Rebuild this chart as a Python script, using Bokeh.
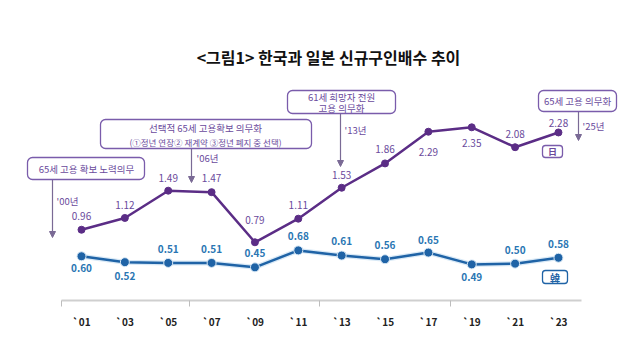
from bokeh.plotting import figure
from bokeh.models import (ColumnDataSource, Label, BoxAnnotation, Arrow, NormalHead,
                          LinearAxis, FixedTicker, Range1d)
from bokeh.embed import file_html
from bokeh.resources import INLINE

# ---------------- data ----------------
years = ["`01", "`03", "`05", "`07", "`09", "`11", "`13", "`15", "`17", "`19", "`21", "`23"]
japan = [0.96, 1.12, 1.49, 1.47, 0.79, 1.11, 1.53, 1.86, 2.29, 2.35, 2.08, 2.28]
korea = [0.60, 0.52, 0.51, 0.51, 0.45, 0.68, 0.61, 0.56, 0.65, 0.49, 0.50, 0.58]

title_text = "<그림1> 한국과 일본 신규구인배수 추이"
source_text = "출처 : 고용노동부, 日후생노동성"

# label placement (pixels, negative = above the point)
jp_label_dy = [-14, -13, -13, -14, -22, -14, -13, -14, 20, 16, -13, -9]
kr_label_dy = [12, 14, -14, -14, -14, -14, -15, -14, -13, 13, -14, -14]

# ---------------- geometry helpers ----------------
ORG = 1                       # page position of the figure's top-left
W = 630
BOTTOM = 54
FRAME_H = 301 - ORG           # frame bottom at page y = 301
H = FRAME_H + BOTTOM
STEP = 43.36                  # px per category
PX_PER_UNIT = 73.7            # px per y unit
X0 = -(82 - ORG) / STEP
X1 = X0 + W / STEP
Y1 = FRAME_H / PX_PER_UNIT

def X(px):
    return X0 + (px - ORG) / STEP

def Y(py):
    return (301 - py) / PX_PER_UNIT

FONT = "Noto Sans CJK KR"
PURPLE = "#5b2d86"
PURPLE_TXT = "#6a4a9c"
BOX_LINE = "#7a5cab"
BLUE = "#1f63a6"
BLUE_TXT = "#2a76b3"

p = figure(width=W, height=H, output_backend="svg", toolbar_location=None,
           x_range=Range1d(X0, X1), y_range=Range1d(0, Y1),
           x_axis_location=None, y_axis_location=None,
           min_border_left=0, min_border_right=0, min_border_top=0,
           min_border_bottom=BOTTOM)
p.outline_line_color = None
p.grid.visible = False
p.background_fill_color = "white"

xs = list(range(len(years)))

# x axis
ax = LinearAxis(ticker=FixedTicker(ticks=xs, minor_ticks=[-0.46, 2.5, 5.5, 8.5]),
                major_label_overrides={i: y for i, y in zip(xs, years)},
                bounds=(-0.46, 11.53))
ax.axis_line_color = "#cfcfcf"
ax.axis_line_width = 2
ax.major_tick_line_color = None
ax.major_tick_out = 0
ax.major_tick_in = 0
ax.minor_tick_line_color = "#bdbdbd"
ax.minor_tick_out = 6
ax.minor_tick_in = 0
ax.major_label_standoff = 7
ax.major_label_text_font = FONT
ax.major_label_text_font_size = "10px"
ax.major_label_text_font_style = "bold"
ax.major_label_text_color = "#222222"
p.add_layout(ax, "below")

src = ColumnDataSource(dict(x=xs, jp=japan, kr=korea,
                            jp_lab=[f"{v:.2f}" for v in japan],
                            kr_lab=[f"{v:.2f}" for v in korea],
                            jp_dy=jp_label_dy, kr_dy=kr_label_dy))

# Korea series with subtle halo
p.line("x", "kr", source=src, line_color="#d9e9f6", line_width=5)
p.line("x", "kr", source=src, line_color=BLUE, line_width=2.5)
p.scatter("x", "kr", source=src, size=9, fill_color=BLUE, line_color="#d9e9f6", line_width=1)

# Japan series
p.line("x", "jp", source=src, line_color=PURPLE, line_width=2.5)
p.scatter("x", "jp", source=src, size=7, fill_color=PURPLE, line_color=PURPLE)

p.text("x", "jp", text="jp_lab", source=src, y_offset="jp_dy",
       text_align="center", text_baseline="middle", text_font_size="10px",
       text_color=PURPLE_TXT, text_font={"value": FONT})
p.text("x", "kr", text="kr_lab", source=src, y_offset="kr_dy",
       text_align="center", text_baseline="middle", text_font_size="10px",
       text_color=BLUE_TXT, text_font={"value": FONT}, text_font_style="bold")

# title
p.add_layout(Label(x=X(329), y=Y(57), text=title_text, text_align="center",
                   text_baseline="middle", text_font=FONT, text_font_size="16px",
                   text_color="#111111", text_font_style="bold"))

# annotation boxes
def box(l, r, t, b, color=BOX_LINE, radius=5):
    p.add_layout(BoxAnnotation(left=X(l), right=X(r), top=Y(t), bottom=Y(b),
                               fill_color="white", fill_alpha=1.0,
                               line_color=color, line_width=1.3, line_alpha=1.0,
                               border_radius=radius, level="overlay"))

def txt(px, py, s, size="9.5px", color=PURPLE_TXT, align="center", style="normal"):
    p.add_layout(Label(x=X(px), y=Y(py), text=s, text_align=align,
                       text_baseline="middle", text_font=FONT, text_font_size=size,
                       text_color=color, text_font_style=style, level="overlay"))

def arrow(px, y0, y1):
    p.add_layout(Arrow(x_start=X(px), y_start=Y(y0), x_end=X(px), y_end=Y(y1),
                       line_color="#7a6a95", line_width=1.2,
                       end=NormalHead(size=6, fill_color="#7a6a95", line_color="#7a6a95")))

box(28, 145, 158, 180)
txt(87, 169, "65세 고용 확보 노력의무")
arrow(53, 180, 238)
txt(57, 201, "'00년", align="left")

box(101, 312, 120, 149)
txt(206, 128, "선택적 65세 고용확보 의무화")
txt(206, 142, "(①정년 연장② 재계약 ③정년 폐지 중 선택)", size="8.5px")
arrow(192, 149, 183)
txt(197, 158, "'06년", align="left")

box(288, 396, 91, 114)
txt(342, 97, "61세 희망자 전원")
txt(342, 108, "고용 의무화")
arrow(341, 114, 167)
txt(345, 130, "'13년", align="left")

box(539, 617, 91, 112)
txt(578, 101, "65세 고용 의무화")
arrow(579, 112, 141)
txt(583, 126, "'25년", align="left")

# series tags
box(543, 563, 146, 158, color=BOX_LINE, radius=3)
txt(553, 152, "日", size="9px", style="bold")
box(543, 568, 271, 284, color=BLUE, radius=3)
txt(555.5, 277.5, "韓", size="10px", color=BLUE, style="bold")

# source (below the frame, screen units)
p.add_layout(Label(x=574 - ORG, y=301 - 329, x_units="screen", y_units="screen",
                   text=source_text, text_align="right", text_baseline="middle",
                   text_font=FONT, text_font_size="8.5px", text_color="#808080"))

open("out.html", "w").write(file_html(p, INLINE))
